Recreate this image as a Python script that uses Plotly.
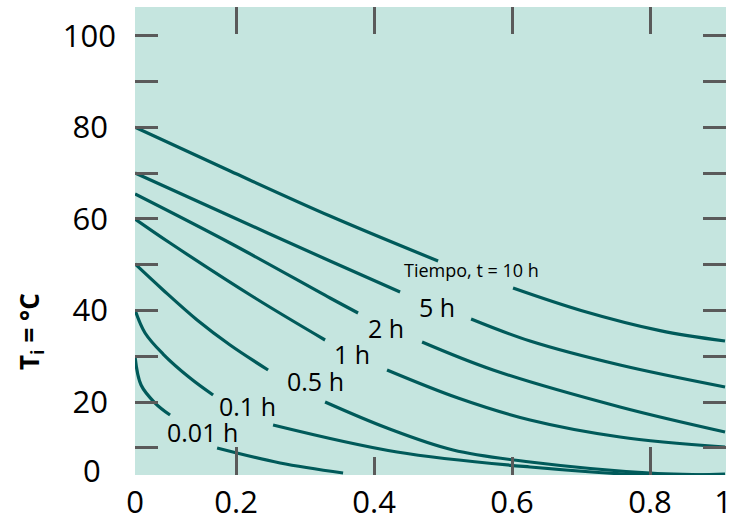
import plotly.graph_objects as go

# ---------------- data ----------------
# x: axis value (0.2 ... 0.8 as labelled), y: temperature in °C; None = gap for the label
t10_x = [0.0536, 0.1913, 0.3362, 0.4928, None, 0.6014, 0.7000, 0.8145, 0.9087]
t10_y = [80.0, 70.45, 60.62, 50.79, None, 44.90, 40.00, 35.60, 33.32]

t5_x = [0.0536, 0.1913, 0.3362, 0.4377, None, 0.5406, 0.6261, 0.7565, 0.9087]
t5_y = [70.0, 60.62, 50.79, 44.02, None, 38.13, 33.32, 28.08, 23.28]

t2_x = [0.0536, 0.1913, 0.3362, 0.3768, None, 0.4696, 0.5725, 0.7565, 0.9087]
t2_y = [65.43, 54.72, 42.71, 39.44, None, 33.10, 26.99, 18.91, 13.45]

t1_x = [0.0536, 0.1043, 0.2275, 0.3290, None, 0.4188, 0.5217, 0.6261, 0.7565, 0.9087]
t1_y = [59.96, 54.72, 42.71, 33.54, None, 26.99, 20.87, 16.07, 12.36, 10.17]

t05_x = [0.0536, 0.0942, 0.1435, 0.1913, 0.2464, None, 0.3290, 0.4188, 0.5145, 0.6261, 0.8000, 0.9087]
t05_y = [50.14, 44.46, 37.91, 32.45, 26.99, None, 20.00, 14.32, 9.52, 6.90, 4.49, 4.06]

t01_x = [0.0536, 0.0681, 0.0942, 0.1333, 0.1667, None, 0.2536, 0.4333, 0.6261, 0.8000, 0.9087]
t01_y = [40.09, 35.07, 30.48, 25.24, 21.53, None, 14.98, 9.08, 5.80, 4.06, 4.27]

t001_x = [0.0536, 0.0623, 0.0826, 0.1043, None, 0.1725, 0.2638, 0.3551]
t001_y = [29.83, 23.71, 19.78, 17.16, None, 9.95, 6.68, 4.49]

curves = [(t10_x, t10_y), (t5_x, t5_y), (t2_x, t2_y), (t1_x, t1_y),
          (t05_x, t05_y), (t01_x, t01_y), (t001_x, t001_y)]

# curve labels: text, x, y, size
label_text = ["Tiempo, t = 10 h", "5 h", "2 h", "1 h", "0.5 h", "0.1 h", "0.01 h"]
label_x = [0.5406, 0.4913, 0.4174, 0.3681, 0.3145, 0.2159, 0.1507]
label_y = [48.8, 40.75, 36.16, 30.48, 24.59, 19.13, 13.45]
label_size = [18, 25, 25, 25, 25, 25, 25]

# axes
x_range = [0.0535, 0.9101]
y_range = [4.06, 106.26]
x_label_vals = [0.0536, 0.2, 0.4, 0.6, 0.8, 0.9058]
x_label_text = ["0", "0.2", "0.4", "0.6", "0.8", "1"]
x_top_ticks = [0.2, 0.4, 0.6, 0.8]
x_bottom_long = [0.2, 0.8]
x_bottom_short = [0.4, 0.6]
y_tick_vals = [10, 20, 30, 40, 50, 60, 70, 80, 90, 100]
y_tick_text = ["", "20\u00a0", "", "40\u00a0", "", "60\u00a0", "", "80\u00a0", "", "100"]

BG = "#c5e5df"
LINE = "#005a5a"
TICK = "#5a5a5a"
FONT = "Open Sans"

fig = go.Figure()
for cx, cy in curves:
    fig.add_trace(go.Scatter(x=cx, y=cy, mode="lines",
                             line=dict(color=LINE, width=3.2, shape="spline", smoothing=1.0),
                             connectgaps=False, showlegend=False, hoverinfo="skip"))
# empty traces to activate the overlay tick axes
fig.add_trace(go.Scatter(x=[], y=[], xaxis="x2", yaxis="y", showlegend=False, hoverinfo="skip"))
fig.add_trace(go.Scatter(x=[], y=[], xaxis="x3", yaxis="y", showlegend=False, hoverinfo="skip"))

for t, lx, ly, s in zip(label_text, label_x, label_y, label_size):
    fig.add_annotation(x=lx, y=ly, xref="x", yref="y", text=t, showarrow=False,
                       font=dict(family=FONT, size=s, color="black"),
                       xanchor="center", yanchor="middle")

# y-axis "0" label and the axis title
fig.add_annotation(x=-0.0728, y=0.0107, xref="paper", yref="paper", text="0",
                   showarrow=False, font=dict(family=FONT, size=31, color="black"),
                   xanchor="center", yanchor="middle")
fig.add_annotation(x=-0.1777, y=0.3077, xref="paper", yref="paper",
                   text="<b>T<sub>i</sub> = °C</b>", textangle=-90, showarrow=False,
                   font=dict(family=FONT, size=26, color="black"),
                   xanchor="center", yanchor="middle")

fig.update_layout(
    width=740, height=520,
    margin=dict(l=135, r=14, t=7, b=45, autoexpand=False),
    paper_bgcolor="white", plot_bgcolor=BG,
    showlegend=False,
    xaxis=dict(range=x_range, tickmode="array", tickvals=x_label_vals, ticktext=x_label_text,
               ticks="", showgrid=False, zeroline=False, showline=False, automargin=False,
               tickfont=dict(family=FONT, size=31, color="black"), ticklabelstandoff=6),
    xaxis2=dict(range=x_range, overlaying="x", side="top", anchor="y", automargin=False,
                tickmode="array", tickvals=x_top_ticks, ticks="inside", ticklen=27,
                tickwidth=3, tickcolor=TICK, showticklabels=False,
                showgrid=False, zeroline=False, showline=False),
    xaxis3=dict(range=x_range, overlaying="x", side="bottom", anchor="y", automargin=False,
                tickmode="array", tickvals=x_bottom_long, ticks="inside", ticklen=28,
                tickwidth=3, tickcolor=TICK, showticklabels=False,
                minor=dict(tickmode="array", tickvals=x_bottom_short, ticks="inside",
                           ticklen=18, tickwidth=3, tickcolor=TICK),
                showgrid=False, zeroline=False, showline=False),
    yaxis=dict(range=y_range, tickmode="array", tickvals=y_tick_vals, ticktext=y_tick_text,
               ticks="inside", ticklen=23, tickwidth=3, tickcolor=TICK, mirror="ticks",
               showgrid=False, zeroline=False, showline=False, automargin=False,
               tickfont=dict(family=FONT, size=31, color="black"), ticklabelstandoff=18),
)

fig.write_html("out.html", config={"displayModeBar": False},
               post_script="document.body.style.margin='0px';document.body.style.overflow='hidden';")
